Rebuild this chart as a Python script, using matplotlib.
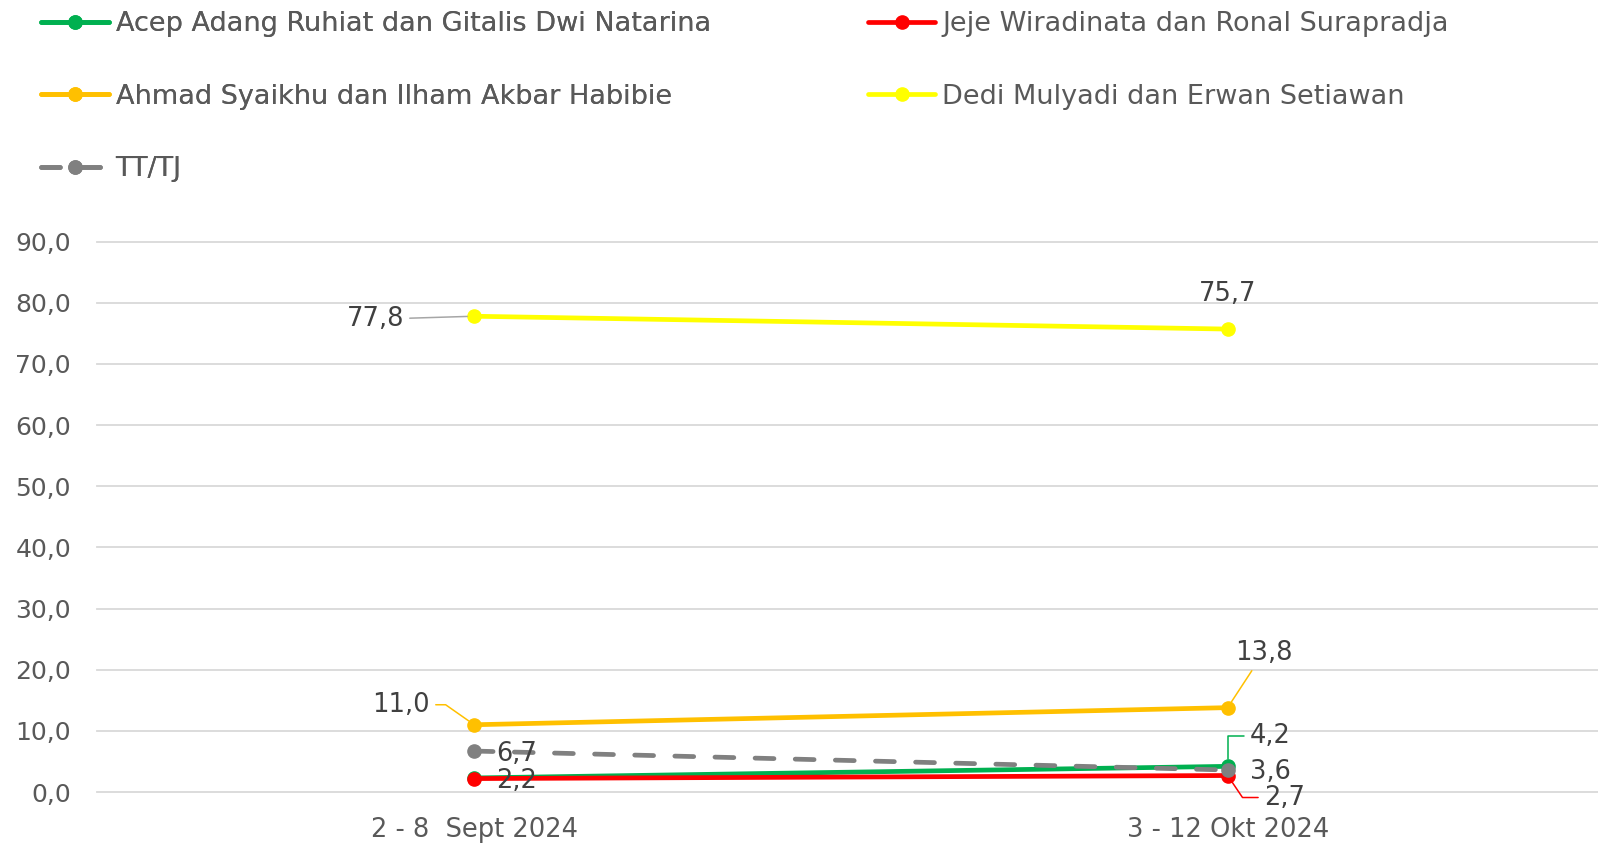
import matplotlib.pyplot as plt

periods = ['2 - 8  Sept 2024', '3 - 12 Okt 2024']
names = ['Acep Adang Ruhiat dan Gitalis Dwi Natarina',
         'Jeje Wiradinata dan Ronal Surapradja',
         'Ahmad Syaikhu dan Ilham Akbar Habibie',
         'Dedi Mulyadi dan Erwan Setiawan',
         'TT/TJ']
acep = [2.3, 4.2]
jeje = [2.2, 2.7]
ahmad = [11.0, 13.8]
dedi = [77.8, 75.7]
ttj = [6.7, 3.6]
yticks = [0, 10, 20, 30, 40, 50, 60, 70, 80, 90]

colors = ['#00B050', '#FF0000', '#FFC000', '#FFFF00', '#808080']
styles = ['-', '-', '-', '-', (0, (4, 4.5))]
series = [acep, jeje, ahmad, dedi, ttj]

plt.rcParams['font.family'] = ['DejaVu Sans']
txt = '#595959'
lab = '#404040'

fig = plt.figure(figsize=(15.98, 8.46), dpi=100)
ax = fig.add_axes([0.061, 0.0638, 0.943, 0.6506])

x = list(range(len(periods)))
handles = []
for vals, c, ls, n in zip(series, colors, styles, names):
    h, = ax.plot(x, vals, color=c, lw=3.4, ls=ls, marker='o', ms=9.5,
                 solid_capstyle='round', dash_capstyle='round', label=n)
    handles.append(h)

ax.set_xlim(-0.5, 1.5)
ax.set_ylim(0, 90)
ax.set_yticks(yticks)
ax.set_yticklabels([f'{v:.1f}'.replace('.', ',') for v in yticks])
ax.set_xticks(x)
ax.set_xticklabels(periods)
ax.tick_params(axis='y', length=0, pad=19, labelsize=18, labelcolor=txt)
ax.tick_params(axis='x', length=0, pad=18, labelsize=18.5, labelcolor=txt)
ax.grid(axis='y', color='#D9D9D9', lw=1.3)
for gl in ax.get_ygridlines():
    gl.set_clip_on(False)
ax.set_axisbelow(True)
for s in ax.spines.values():
    s.set_visible(False)


def fmt(v):
    return f'{v:.1f}'.replace('.', ',')


def label(xi, v, dx, dy, ha='left', lc=None, conn=None):
    kw = {}
    if lc is not None:
        kw['arrowprops'] = dict(arrowstyle='-', color=lc, lw=1.1,
                                shrinkA=2, shrinkB=5,
                                connectionstyle=conn or 'arc3')
    ax.annotate(fmt(v), (xi, v), xytext=(dx, dy), textcoords='offset pixels',
                ha=ha, va='center', fontsize=18.5, color=lab,
                annotation_clip=False, **kw)


label(0, dedi[0], -70, -3, ha='right', lc='#A6A6A6')
label(1, dedi[1], 0, 35, ha='center')
label(0, ahmad[0], -44, 20, ha='right', lc='#FFC000',
      conn='angle,angleA=0,angleB=-35,rad=0')
label(1, ahmad[1], 36, 55, ha='center', lc='#FFC000')
label(0, ttj[0], 22, -3)
label(0, jeje[0], 22, -2)
label(1, acep[1], 22, 30, lc='#00B050',
      conn='angle,angleA=0,angleB=90,rad=0')
label(1, ttj[1], 22, -2)
label(1, jeje[1], 36, -22, lc='#FF0000',
      conn='angle,angleA=0,angleB=-56,rad=0')

kw = dict(loc='upper left', frameon=False, fontsize=19.5, labelcolor=txt,
          handlelength=2.5, handletextpad=0.25, labelspacing=1.72,
          borderpad=0, borderaxespad=0)
leg1 = fig.legend([handles[0], handles[2], handles[4]],
                  [names[0], names[2], names[4]],
                  bbox_to_anchor=(0.0257, 0.987), **kw)
fig.add_artist(leg1)
fig.legend([handles[1], handles[3]], [names[1], names[3]],
           bbox_to_anchor=(0.543, 0.987), **kw)

fig.savefig('out.png', dpi=100)
